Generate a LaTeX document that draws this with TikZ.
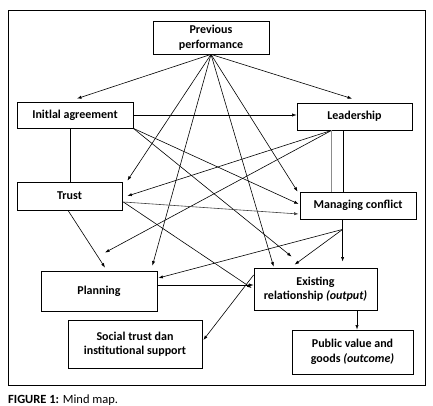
\documentclass[tikz,border=0pt]{standalone}
\usepackage{fontspec}
\setmainfont{Carlito}
\usetikzlibrary{arrows.meta,calc}
\begin{document}
\begin{tikzpicture}[x=1pt,y=-1pt,
  box/.style={draw=black,line width=0.8pt,fill=white,align=center,inner sep=1pt,
    font=\fontsize{12}{14.5}\selectfont\bfseries},
  arr/.style={line width=0.6pt,-{Latex[length=4.5pt,width=3.2pt]}},
  ln/.style={line width=0.6pt},
  grayln/.style={line width=0.6pt,draw=black!45},
  frame/.style={draw=black,line width=1pt}]
\useasboundingbox (0,0) rectangle (433,406);
\draw[frame] (8,11) rectangle (425,385);
% nodes
\node[box,minimum width=116pt,minimum height=33pt] (pp) at (211,37.5) {Previous\\performance};
\node[box,minimum width=116pt,minimum height=26pt] (ia) at (75,115) {Initlal agreement};
\node[box,minimum width=115pt,minimum height=27pt] (ld) at (354.5,116.5) {Leadership};
\node[box,minimum width=105pt,minimum height=28pt] (tr) at (69.5,196) {Trust};
\node[box,minimum width=116pt,minimum height=27pt] (mc) at (358,205.5) {Managing conflict};
\node[box,minimum width=116pt,minimum height=40pt] (pl) at (99,291) {Planning};
\node[box,minimum width=123pt,minimum height=42pt] (er) at (315.5,289) {Existing\\relationship \textit{(output)}};
\node[box,minimum width=134pt,minimum height=48pt] (st) at (135,344) {Social trust dan\\institutional support};
\node[box,minimum width=121pt,minimum height=44pt] (pv) at (352.5,352) {Public value and\\goods \textit{(outcome)}};
\node[anchor=base west,inner sep=0pt,font=\fontsize{12.5}{14}\selectfont] (cap) at (8,403) {\textbf{FIGURE 1:} Mind map.};
% helper coordinates
\coordinate (lds) at ([xshift=35pt]ld.south west);
\coordinate (mcs) at ([xshift=43pt]mc.south west);
\coordinate (mcb) at ([shift={(0,10)}]mcs);
\coordinate (trs) at ([shift={(1,6)}]tr.east);
% edges from Previous performance
\draw[arr] (pp.south) -- ([shift={(2,-3)}]ia.north);
\draw[arr] (pp.south) -- ([shift={(-2.5,-4)}]ld.north);
\draw[arr] (pp.south) -- ([shift={(5,-1)}]tr.north east);
\draw[arr] (pp.south) -- ([shift={(-5,-5)}]pl.north east);
\draw[arr] (pp.south) -- ([shift={(20,-1)}]er.north west);
\draw[arr] (pp.south) -- ([shift={(-2,0)}]mc.north west);
% Initial agreement
\draw[arr] (ia.east) -- (ia.east -| ld.west);
\draw[ln] ([xshift=-5pt]ia.south) -- ([xshift=-5pt]ia.south |- tr.north);
\draw[arr] (ia.south east) -- ([shift={(-1,-1.5)}]mc.west);
\draw[arr] (ia.south east) -- ([shift={(38,-11)}]er.north west);
% Leadership
\draw[arr] (lds) -- ([shift={(5,0)}]tr.east);
\draw[arr] (lds) -- ([shift={(6,-18)}]pl.north);
\draw[grayln] (lds) -- (lds |- mc.north);
\draw[ln] ([xshift=-11.5pt]ld.south) -- ([xshift=-11.5pt]ld.south |- mc.north);
% Managing conflict
\draw[arr] (mcs) -- ([shift={(0,-6)}]mcs |- er.north);
\draw[arr] (mcb) -- ([shift={(1,-13)}]pl.east);
\draw[arr] (mcb) -- ([shift={(41,-3)}]er.north west);
% Trust
\draw[arr,draw=black!75] (trs) -- ([shift={(-1,8.5)}]mc.west);
\draw[arr] (trs) -- ([shift={(-2,-1)}]er.west);
\draw[arr] ([xshift=-1.5pt]tr.south) -- ([shift={(6,-3)}]pl.north);
% Planning and Existing relationship
\draw[arr] ([yshift=6pt]pl.east) -- ([yshift=6pt]pl.east -| er.west);
\draw[arr] ([yshift=14pt]er.west) -- ([shift={(1,-4)}]st.east);
\draw[arr] ([xshift=41.5pt]er.south) -- ([xshift=41.5pt]er.south |- pv.north);
\end{tikzpicture}
\end{document}
